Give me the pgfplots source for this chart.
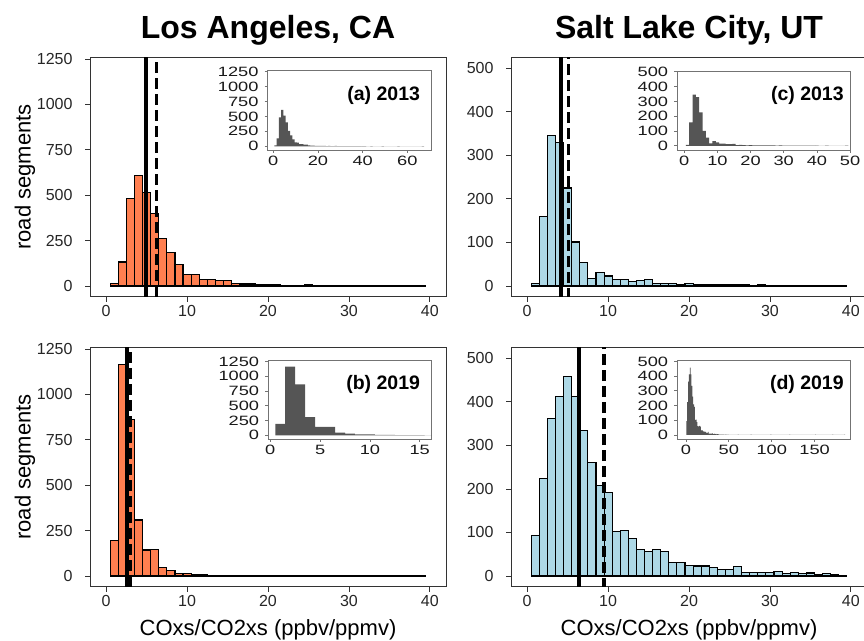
\documentclass[border=0pt]{standalone}
\usepackage{fontspec}
\setmainfont{Liberation Sans}
\newfontfamily\insetfont[FakeStretch=1.35]{Liberation Sans}
\usepackage{pgfplots}
\usepackage{pgfplotstable}
\pgfplotsset{compat=1.18}

\definecolor{coral}{RGB}{255,127,80}
\definecolor{lblue}{RGB}{173,216,230}
\definecolor{insetbar}{RGB}{85,85,85}

% bins of width 1: left edge, count; the last row only closes the last bin
\pgfplotstableread{
x y
0.5 15
1.5 132
2.5 482
3.5 608
4.5 515
5.5 401
6.5 259
7.5 182
8.5 116
9.5 64
10.5 63
11.5 35
12.5 35
13.5 29
14.5 29
15.5 15
16.5 11
17.5 11
18.5 8
19.5 7
20.5 6
21.5 5
22.5 5
23.5 4
24.5 6
25.5 4
26.5 3
27.5 5
28.5 4
29.5 3
30.5 2
31.5 4
32.5 3
33.5 2
34.5 3
35.5 2
36.5 3
37.5 2
38.5 1
39.5 0
}\laA

\pgfplotstableread{
x y
0.5 195
1.5 1166
2.5 863
3.5 308
4.5 143
5.5 145
6.5 48
7.5 29
8.5 15
9.5 15
10.5 7
11.5 6
12.5 5
13.5 3
14.5 2
15.5 0
16.5 0
17.5 0
18.5 0
19.5 0
20.5 0
21.5 0
22.5 0
23.5 0
24.5 0
25.5 0
26.5 0
27.5 0
28.5 0
29.5 0
30.5 0
31.5 0
32.5 0
33.5 0
34.5 0
35.5 0
36.5 0
37.5 0
38.5 0
39.5 0
}\laB

\pgfplotstableread{
x y
0.5 6
1.5 159
2.5 345
3.5 329
4.5 225
5.5 101
6.5 55
7.5 17
8.5 31
9.5 23
10.5 15
11.5 15
12.5 11
13.5 12
14.5 14
15.5 5
16.5 6
17.5 5
18.5 3
19.5 5
20.5 4
21.5 3
22.5 4
23.5 3
24.5 3
25.5 4
26.5 3
27.5 2
28.5 3
29.5 2
30.5 2
31.5 2
32.5 1
33.5 2
34.5 2
35.5 1
36.5 2
37.5 1
38.5 1
39.5 0
}\slcC

\pgfplotstableread{
x y
0.5 94
1.5 223
2.5 362
3.5 412
4.5 457
5.5 412
6.5 334
7.5 261
8.5 208
9.5 191
10.5 103
11.5 104
12.5 87
13.5 60
14.5 56
15.5 61
16.5 56
17.5 31
18.5 32
19.5 25
20.5 23
21.5 23
22.5 20
23.5 14
24.5 14
25.5 21
26.5 9
27.5 9
28.5 8
29.5 9
30.5 11
31.5 5
32.5 8
33.5 5
34.5 7
35.5 3
36.5 5
37.5 3
38.5 2
39.5 0
}\slcD

% tails beyond 40, only seen in the insets
\pgfplotstableread{
x y
39.5 1
40.5 1
41.5 0
43.5 1
44.5 0
48.5 1
49.5 0
55.5 1
56.5 0
66.5 1
67.5 0
}\laAtail

\pgfplotstableread{
x y
39.5 1
40.5 0
42.5 1
43.5 0
48.5 1
49.5 0
}\slcCtail

\pgfplotstableread{
x y
39.5 2
40.5 1
41.5 2
42.5 1
43.5 1
44.5 0
45.5 1
46.5 1
47.5 0
48.5 1
49.5 0
60.5 1
61.5 0
75.5 1
76.5 0
98.5 1
99.5 0
120.5 1
121.5 0
150.5 1
151.5 0
170.5 1
171.5 0
184.5 1
185.5 0
}\slcDtail

\pgfplotsset{
  mainax/.style={
    scale only axis, width=356pt, height=239.6pt,
    xmin=-2, xmax=42, xtick={0,10,20,30,40},
    tick pos=left, tick align=outside, major tick length=5pt,
    axis line style={black!80, line width=0.8pt},
    tick style={black!80, line width=0.8pt},
    ticklabel style={font=\fontsize{16}{16}\selectfont, text=black!85},
    yticklabel style={xshift=-9pt},
    /pgf/number format/assume math mode=true,
    /pgf/number format/1000 sep={},
  },
  insetax/.style={
    scale only axis, tick pos=left, tick align=outside, major tick length=3pt,
    axis line style={black!55, line width=0.7pt},
    tick style={black!55, line width=0.7pt},
    ticklabel style={font=\insetfont\fontsize{13.5}{13}\selectfont, text=black!90, inner sep=1pt},
    yticklabel style={xshift=-5pt},
    xticklabel style={yshift=-2pt},
    /pgf/number format/assume math mode=true,
    /pgf/number format/1000 sep={},
  },
  hbar/.style={ybar interval, draw=black, line width=1.1pt},
  ibar/.style={ybar interval, fill=insetbar, draw=none},
  meanline/.style={black, line width=4pt},
  medline/.style={black, line width=3.2pt, dash pattern=on 11pt off 5pt},
}
\tikzset{tag/.style={anchor=east, font=\fontsize{19.5}{19.5}\selectfont\bfseries}}

\begin{document}
\begin{tikzpicture}
\path[use as bounding box] (0,0) rectangle (864pt,640pt);

% (a) Los Angeles 2013
\begin{axis}[mainax, at={(90pt,343.3pt)}, anchor=south west,
  ymin=-59, ymax=1260, ytick={0,250,...,1250}]
\addplot[hbar, fill=coral] table {\laA};
\addplot[meanline] coordinates {(4.95,-59) (4.95,1260)};
\addplot[medline] coordinates {(6.2,-59) (6.2,1260)};
\end{axis}
\begin{axis}[insetax, at={(267.7pt,490pt)}, anchor=south west,
  width=164pt, height=79.3pt, xmin=-2.5, xmax=70.9, ymin=-62, ymax=1265,
  xtick={0,20,40,60}, ytick={0,250,...,1250}]
\addplot[ibar] table {\laA};
\addplot[ibar] table {\laAtail};
\node[tag] at (rel axis cs:0.95,0.69) {(a) 2013};
\end{axis}

% (b) Los Angeles 2019
\begin{axis}[mainax, at={(90pt,53.3pt)}, anchor=south west,
  ymin=-59, ymax=1260, ytick={0,250,...,1250}]
\addplot[hbar, fill=coral] table {\laB};
\addplot[meanline] coordinates {(2.6,-59) (2.6,1260)};
\addplot[medline] coordinates {(2.95,-59) (2.95,1260)};
\end{axis}
\begin{axis}[insetax, at={(268.3pt,201pt)}, anchor=south west,
  width=163.4pt, height=78.3pt, xmin=-0.2, xmax=16.2, ymin=-62, ymax=1265,
  xtick={0,5,10,15}, ytick={0,250,...,1250}]
\addplot[ibar] table {\laB};
\node[tag] at (rel axis cs:0.95,0.70) {(b) 2019};
\end{axis}

% (c) Salt Lake City 2013
\begin{axis}[mainax, at={(511pt,343.3pt)}, anchor=south west,
  ymin=-24.5, ymax=525.5, ytick={0,100,...,500}]
\addplot[hbar, fill=lblue] table {\slcC};
\addplot[meanline] coordinates {(4.23,-30) (4.23,530)};
\addplot[medline] coordinates {(5.14,-30) (5.14,530)};
\end{axis}
\begin{axis}[insetax, at={(677.3pt,490pt)}, anchor=south west,
  width=173.4pt, height=79pt, xmin=-2.1, xmax=50.2, ymin=-28, ymax=505,
  xtick={0,10,...,50}, ytick={0,100,...,500}]
\addplot[ibar] table {\slcC};
\addplot[ibar] table {\slcCtail};
\node[tag] at (rel axis cs:0.98,0.69) {(c) 2013};
\end{axis}

% (d) Salt Lake City 2019
\begin{axis}[mainax, at={(511pt,53.3pt)}, anchor=south west,
  ymin=-24.5, ymax=525.5, ytick={0,100,...,500}]
\addplot[hbar, fill=lblue] table {\slcD};
\addplot[meanline] coordinates {(6.46,-30) (6.46,530)};
\addplot[medline] coordinates {(9.5,-30) (9.5,530)};
\end{axis}
\begin{axis}[insetax, at={(677.3pt,201pt)}, anchor=south west,
  width=173.4pt, height=78.3pt, xmin=-10, xmax=192, ymin=-28, ymax=505,
  xtick={0,50,100,150}, ytick={0,100,...,500}]
\addplot[ibar] table {\slcD};
\addplot[ibar] table {\slcDtail};
\node[tag] at (rel axis cs:0.98,0.70) {(d) 2019};
\end{axis}

% titles and shared labels
\node[font=\fontsize{32}{32}\selectfont\bfseries, anchor=base] at (268pt,601pt) {Los Angeles, CA};
\node[font=\fontsize{32}{32}\selectfont\bfseries, anchor=base] at (689pt,601pt) {Salt Lake City, UT};
\node[font=\fontsize{22}{22}\selectfont, rotate=90] at (25pt,463pt) {road segments};
\node[font=\fontsize{22}{22}\selectfont, rotate=90] at (25pt,173pt) {road segments};
\node[font=\fontsize{22}{22}\selectfont] at (268pt,10.5pt) {COxs/CO2xs (ppbv/ppmv)};
\node[font=\fontsize{22}{22}\selectfont] at (689pt,10.5pt) {COxs/CO2xs (ppbv/ppmv)};
\end{tikzpicture}
\end{document}
